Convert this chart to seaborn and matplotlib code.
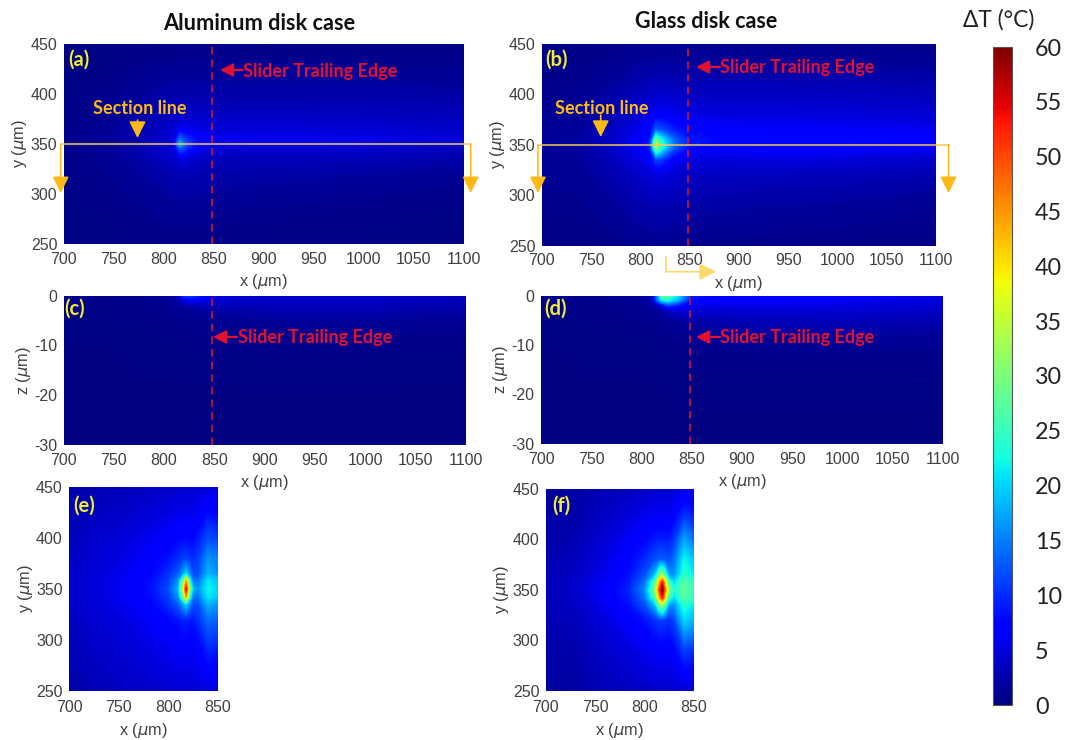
import numpy as np
import matplotlib
matplotlib.use("Agg")
import matplotlib.pyplot as plt
import seaborn as sns

# ---------- data (temperature rise, deg C) ----------
x_wide = [700, 740, 770, 795, 810, 816, 820, 826, 835, 850, 880, 930, 1000, 1100]
y_wide = [250, 290, 320, 335, 345, 350, 355, 365, 380, 400, 425, 450]
z_wide = [-30, -20, -12, -8, -5, -3, -2, -1, 0]
x_near = [700, 730, 760, 785, 800, 810, 815, 818, 821, 825, 830, 840, 850]
y_near = [250, 290, 320, 335, 342, 350, 358, 365, 380, 400, 425, 450]

panel_a = [
    [.3, .3, .4, .5, .5, .5, .5, .5, .5, .5, .4, .3, .3, .2],
    [.4, .6, .9, 1.2, 1.4, 1.5, 1.5, 1.5, 1.4, 1.3, 1.1, 1.0, .8, .5],
    [.5, .9, 1.5, 2.1, 2.6, 2.8, 2.8, 2.7, 2.5, 2.2, 2.1, 2.0, 1.7, 1.2],
    [.6, 1.1, 1.9, 3.0, 3.8, 5, 5, 4.4, 3.7, 3.1, 3.0, 3.0, 2.8, 2.1],
    [.7, 1.3, 2.3, 3.6, 4.8, 12, 11, 8.5, 6, 4.5, 4.2, 4.2, 4.0, 3.2],
    [.7, 1.3, 2.4, 3.9, 5.4, 19, 14, 10.5, 8, 6.2, 5.8, 5.8, 5.6, 4.6],
    [.7, 1.3, 2.3, 3.7, 5, 14, 11.5, 9.5, 7.5, 6.2, 6, 5.8, 5.6, 4.8],
    [.6, 1.2, 2.1, 3.3, 4.2, 6, 6, 5.8, 5.2, 4.8, 4.6, 4.6, 4.4, 3.8],
    [.5, 1.0, 1.8, 2.7, 3.3, 3.7, 3.8, 3.8, 3.6, 3.4, 3.4, 3.4, 3.3, 2.9],
    [.4, .8, 1.3, 1.9, 2.2, 2.3, 2.3, 2.3, 2.3, 2.2, 2.2, 2.2, 2.2, 1.9],
    [.3, .5, .8, 1.1, 1.2, 1.3, 1.3, 1.3, 1.2, 1.2, 1.2, 1.2, 1.1, 1.0],
    [.2, .3, .4, .5, .5, .5, .5, .5, .5, .5, .5, .4, .4, .3],
]
panel_b = [
    [.4, .5, .7, .9, 1, 1, 1, 1, 1, .9, .8, .7, .6, .5],
    [.9, .9, 1.5, 2.2, 2.6, 2.7, 2.7, 2.7, 2.5, 2.2, 1.9, 1.7, 1.5, 1.1],
    [1.1, 1.2, 2.4, 3.6, 4.6, 5, 5, 4.8, 4.2, 3.6, 3.4, 3.2, 3, 2.4],
    [1.2, 1.5, 3, 4.8, 6.6, 11, 11, 9, 6.5, 5, 4.8, 5, 4.8, 4],
    [1.3, 1.7, 3.5, 6, 8.5, 27, 23, 17, 11, 7, 6.4, 6.6, 6.6, 5.6],
    [1.4, 1.8, 3.7, 6.5, 9.5, 36, 27, 21, 14, 9, 7.6, 7.8, 8, 7.2],
    [1.4, 1.8, 3.6, 6.2, 9, 29, 24, 19, 13, 9, 7.8, 7.8, 7.8, 7.2],
    [1.3, 1.6, 3.3, 5.5, 7.4, 13, 12, 11, 9, 7.4, 6.8, 6.6, 6.4, 5.8],
    [1.1, 1.4, 2.7, 4.4, 5.6, 6.4, 6.6, 6.5, 5.8, 5.2, 5, 5, 4.8, 4.4],
    [.9, 1.1, 2, 3.1, 3.7, 3.9, 4, 4, 3.8, 3.5, 3.5, 3.5, 3.4, 3],
    [.6, .8, 1.2, 1.7, 2, 2.1, 2.1, 2.1, 2, 1.9, 1.9, 1.9, 1.8, 1.6],
    [.4, .5, .7, .9, 1, 1, 1, 1, 1, .9, .9, .8, .8, .7],
]
panel_c = [
    [.1, .1, .1, .1, .1, .1, .1, .1, .1, .1, .1, .1, .1, .1],
    [.2, .2, .2, .2, .2, .2, .2, .2, .2, .2, .2, .2, .2, .2],
    [.2, .2, .3, .3, .3, .3, .4, .4, .4, .4, .5, .5, .5, .4],
    [.3, .3, .4, .4, .5, .5, .6, .6, .7, .7, .8, .9, .9, .7],
    [.3, .4, .5, .6, .7, .8, .9, .9, 1, 1.1, 1.3, 1.5, 1.5, 1.2],
    [.4, .5, .6, .8, 1, 1.1, 1.2, 1.4, 1.6, 1.8, 2.1, 2.4, 2.4, 1.9],
    [.5, .6, .7, .9, 1.2, 1.4, 1.7, 2, 2.6, 3, 2.9, 3, 3, 2.4],
    [.6, .7, .8, 1, 1.5, 2.5, 5, 6.5, 6, 4.5, 3.6, 3.6, 3.6, 2.9],
    [.7, .8, 1, 1.2, 2, 6, 11, 11, 9, 5.5, 4.4, 4.2, 4, 3.3],
]
panel_d = [
    [.1, .1, .1, .1, .1, .1, .1, .1, .1, .1, .1, .1, .1, .1],
    [.2, .2, .2, .2, .2, .2, .2, .3, .3, .3, .3, .3, .3, .3],
    [.2, .3, .3, .3, .4, .4, .4, .5, .5, .6, .7, .8, .8, .7],
    [.3, .4, .4, .5, .5, .6, .7, .8, .9, 1.1, 1.4, 1.6, 1.7, 1.4],
    [.4, .5, .6, .7, .9, 1, 1.1, 1.3, 1.6, 2, 2.6, 3, 3, 2.5],
    [.5, .6, .7, .9, 1.2, 1.6, 2, 3, 4.4, 4.6, 4.4, 4.6, 4.4, 3.6],
    [.6, .7, .8, 1, 1.5, 3.5, 6, 11, 9, 6, 5.4, 5.6, 5.2, 4.2],
    [.7, .8, .9, 1.2, 2, 14, 20, 22, 18, 8, 6.4, 6.4, 6, 4.8],
    [.8, .9, 1.1, 1.4, 3, 16, 28, 28, 22, 9, 7, 7, 6.6, 5.2],
]
panel_e = [
    [1.8, 3, 3.6, 4, 4.4, 4.6, 4.6, 4.6, 4.6, 4.6, 4.8, 5, 5],
    [3, 3.8, 4.6, 5.4, 5.8, 6.2, 6.4, 6.4, 6.2, 6.2, 6.8, 9.5, 9],
    [3.4, 4.4, 5.4, 6.6, 7.6, 8.6, 9.4, 9.4, 9, 8.8, 10, 14, 13],
    [3.8, 4.8, 6, 7.8, 10, 13, 17, 20, 16, 12, 12, 18, 16],
    [3.9, 5, 6.3, 8.3, 11, 16, 28, 44, 25, 14, 14, 21, 19],
    [4, 5, 6.5, 8.6, 12, 18, 36, 54, 32, 18, 16, 22, 20],
    [3.9, 5, 6.3, 8.3, 11, 16, 28, 44, 25, 14, 14, 21, 19],
    [3.8, 4.8, 6, 7.8, 10, 13, 17, 20, 16, 12, 12, 18, 16],
    [3.6, 4.6, 5.6, 7, 8.4, 10, 11, 11, 10.5, 10, 11, 16, 15],
    [3.2, 4.1, 5, 6, 6.8, 7.4, 7.8, 7.8, 7.6, 7.6, 8.8, 12, 11],
    [2.6, 3.4, 4, 4.8, 5.2, 5.6, 5.8, 5.8, 5.6, 5.6, 6.2, 8, 7.5],
    [2, 2.8, 3.2, 3.6, 4, 4.2, 4.2, 4.2, 4.2, 4.2, 4.4, 5, 5],
]
panel_f = [
    [1.6, 1.8, 3, 3.4, 3.8, 4, 4.2, 4.2, 4.2, 4.2, 4.4, 4.4, 4.4],
    [2, 2.4, 4, 5, 5.8, 6.4, 6.6, 6.6, 6.4, 6.4, 7.2, 11, 10],
    [2.6, 3.2, 5, 6.8, 8.4, 10, 11, 11, 10.6, 10, 11.5, 20, 18],
    [2.8, 3.6, 5.8, 8.4, 12, 18, 28, 32, 25, 16, 16, 24, 21],
    [3, 3.8, 6.2, 9, 14, 25, 42, 52, 38, 24, 20, 27, 24],
    [3, 4, 6.5, 9.6, 15.5, 29, 50, 60, 45, 30, 23, 28, 25],
    [3, 3.8, 6.2, 9, 14, 25, 42, 52, 38, 24, 20, 27, 24],
    [2.8, 3.6, 5.8, 8.4, 12, 18, 28, 32, 25, 16, 16, 24, 21],
    [2.6, 3.2, 5.2, 7.6, 9.8, 12, 13, 13, 12.6, 12, 14, 22, 19],
    [2.2, 2.6, 4.6, 6.4, 7.6, 8.8, 9.2, 9.2, 9, 9, 10.5, 17, 14],
    [1.8, 2.2, 3.6, 4.8, 5.6, 6, 6.2, 6.2, 6, 6, 7, 10, 9],
    [1.6, 1.8, 3, 3.4, 4, 4.2, 4.4, 4.4, 4.4, 4.4, 4.6, 5.5, 5],
]

xticks_wide = [700, 750, 800, 850, 900, 950, 1000, 1050, 1100]
xticks_near = [700, 750, 800, 850]
yticks_plan = [250, 300, 350, 400, 450]
zticks = [-30, -20, -10, 0]
cbar_ticks = [0, 5, 10, 15, 20, 25, 30, 35, 40, 45, 50, 55, 60]
trailing_edge_x = 848

# ---------- style ----------
sns.set_theme(style="white")
plt.rcParams["font.family"] = ["Liberation Sans", "DejaVu Sans"]
plt.rcParams["mathtext.fontset"] = "dejavusans"
W, H = 1075, 740
TICK = "#404040"
AMBER = "#FFB914"
PALE = "#F7C659"
RED = "#E4102F"
DASH = "#C4123C"
YELLOW = "#F4EE2C"
CAL = ["Lato", "DejaVu Sans"]

fig = plt.figure(figsize=(W / 100, H / 100), dpi=100, facecolor="white")
cax = fig.add_axes([993 / W, 1 - 705 / H, 18.5 / W, 658 / H])


def panel(box, Z, xs, ys, xticks, yticks, ylab, first=False, edge=True, xpad=5.5):
    l, t, r, b = box
    ax = fig.add_axes([l / W, 1 - b / H, (r - l) / W, (b - t) / H])
    Z = np.array(Z, dtype=float)
    ny, nx = Z.shape
    ix, iy = np.arange(nx), np.arange(ny)
    sns.heatmap(Z, ax=ax, cmap="jet", vmin=0, vmax=60, shading="gouraud",
                xticklabels=False, yticklabels=False, cbar=first,
                cbar_ax=cax if first else None,
                cbar_kws={"ticks": cbar_ticks} if first else None)
    # colour-accurate smoothing between the read values
    ax.contourf(ix, iy, Z, levels=np.linspace(0, 60, 241), cmap="jet",
                vmin=0, vmax=60, extend="both")
    ax.set_xscale("function", functions=(lambda i: np.interp(i, ix, xs),
                                         lambda v: np.interp(v, xs, ix)))
    ax.set_yscale("function", functions=(lambda i: np.interp(i, iy, ys),
                                         lambda v: np.interp(v, ys, iy)))
    ax.set_xlim(0, nx - 1)
    ax.set_ylim(0, ny - 1)
    ax.set_xticks(np.interp(xticks, xs, ix), [str(v) for v in xticks])
    ax.set_yticks(np.interp(yticks, ys, iy), [str(v) for v in yticks])
    ax.minorticks_off()
    ax.tick_params(length=0, labelsize=11.5, labelcolor=TICK, pad=4.5,
                   bottom=True, left=True, labelbottom=True, labelleft=True)
    ax.tick_params(axis="x", pad=xpad)
    ax.set_xlabel(r"x ($\mu$m)", fontsize=11.8, color=TICK, labelpad=4)
    ax.set_ylabel(ylab, fontsize=11.8, color=TICK, labelpad=1)
    for s in ax.spines.values():
        s.set_visible(False)
    if edge:
        ax.axvline(np.interp(trailing_edge_x, xs, ix), color=DASH, lw=1.3,
                   dashes=(4.2, 2.8), zorder=5)
    return ax


ax_a = panel((63.5, 44, 464, 244), panel_a, x_wide, y_wide, xticks_wide, yticks_plan,
             r"y ($\mu$m)", first=True)
panel((541.7, 44, 936, 245.5), panel_b, x_wide, y_wide, xticks_wide, yticks_plan,
      r"y ($\mu$m)")
panel((63.5, 295.7, 465.7, 445), panel_c, x_wide, z_wide, xticks_wide, zticks,
      r"z ($\mu$m)")
panel((541, 295.5, 943, 444), panel_d, x_wide, z_wide, xticks_wide, zticks,
      r"z ($\mu$m)")
panel((69, 487, 218, 690.7), panel_e, x_near, y_near, xticks_near, yticks_plan,
      r"y ($\mu$m)", edge=False, xpad=7)
panel((545.7, 489, 694, 690.7), panel_f, x_near, y_near, xticks_near, yticks_plan,
      r"y ($\mu$m)", edge=False, xpad=7)

# colour bar
cax.tick_params(length=0, labelsize=16.8, pad=17, labelcolor="#222222", right=True)
for lab in cax.get_yticklabels():
    lab.set_family(CAL)
cb = ax_a.collections[0].colorbar
cb.outline.set_visible(True)
cb.outline.set_linewidth(0.8)
cb.outline.set_edgecolor("#555555")

# ---------- annotations in picture pixels ----------
ov = fig.add_axes([0, 0, 1, 1], zorder=10)
ov.set_xlim(0, W)
ov.set_ylim(H, 0)
ov.axis("off")
ov.patch.set_alpha(0)


def arrow(x0, y0, x1, y1, color, lw=1.4, hw=0.36, hl=0.72):
    ov.annotate("", xy=(x1, y1), xytext=(x0, y0),
                arrowprops=dict(arrowstyle=f"-|>,head_width={hw},head_length={hl}",
                                color=color, lw=lw, shrinkA=0, shrinkB=0,
                                mutation_scale=14))


def label(x, y, s, color, size, ha="left", weight="bold"):
    ov.text(x, y, s, color=color, fontsize=size, ha=ha, va="center",
            family=CAL, fontweight=weight)


label(259, 23, "Aluminum disk case", "#111111", 15.7, ha="center")
label(706.5, 22, "Glass disk case", "#111111", 15.5, ha="center")
label(999, 20, "ΔT (°C)", "#222222", 16.4, ha="center", weight="normal")

for x, y, s in [(68, 60, "(a)"), (545, 60, "(b)"), (64, 309, "(c)"),
                (544, 309, "(d)"), (73, 506, "(e)"), (552, 506, "(f)")]:
    label(x, y, s, YELLOW, 14.5)

for x, y in [(243, 71), (720, 67), (238, 338), (720, 337)]:
    label(x, y, "Slider Trailing Edge", RED, 13)
for x0, x1, y in [(243, 220, 70), (720, 696, 67), (237, 213, 337), (720, 696, 337)]:
    arrow(x0, y, x1, y, RED, lw=1.6, hw=0.28, hl=0.55)

label(93, 109, "Section line", AMBER, 13)
label(555, 108, "Section line", AMBER, 13)
arrow(137.5, 120, 137.5, 138, AMBER, lw=1.2)
arrow(600.7, 115, 600.7, 137, AMBER, lw=1.2)

# section lines with drop arrows
ov.plot([60.7, 470.7], [144, 144], color=PALE, lw=1.1)
arrow(60.7, 144, 60.7, 193, AMBER, lw=1.1)
arrow(470.7, 144, 470.7, 193, AMBER, lw=1.1)
ov.plot([538, 948.5], [144.7, 144.7], color=PALE, lw=1.1)
arrow(538, 144.7, 538, 193, AMBER, lw=1.1)
arrow(948.5, 144.7, 948.5, 193, AMBER, lw=1.1)

# small axis-direction arrow under panel (b)
ov.plot([666, 666], [257, 271.7], color="#FBD96C", lw=1.2)
arrow(666, 271.7, 716, 271.7, "#FBD96C", lw=1.2)

fig.savefig("out.png", dpi=100)
